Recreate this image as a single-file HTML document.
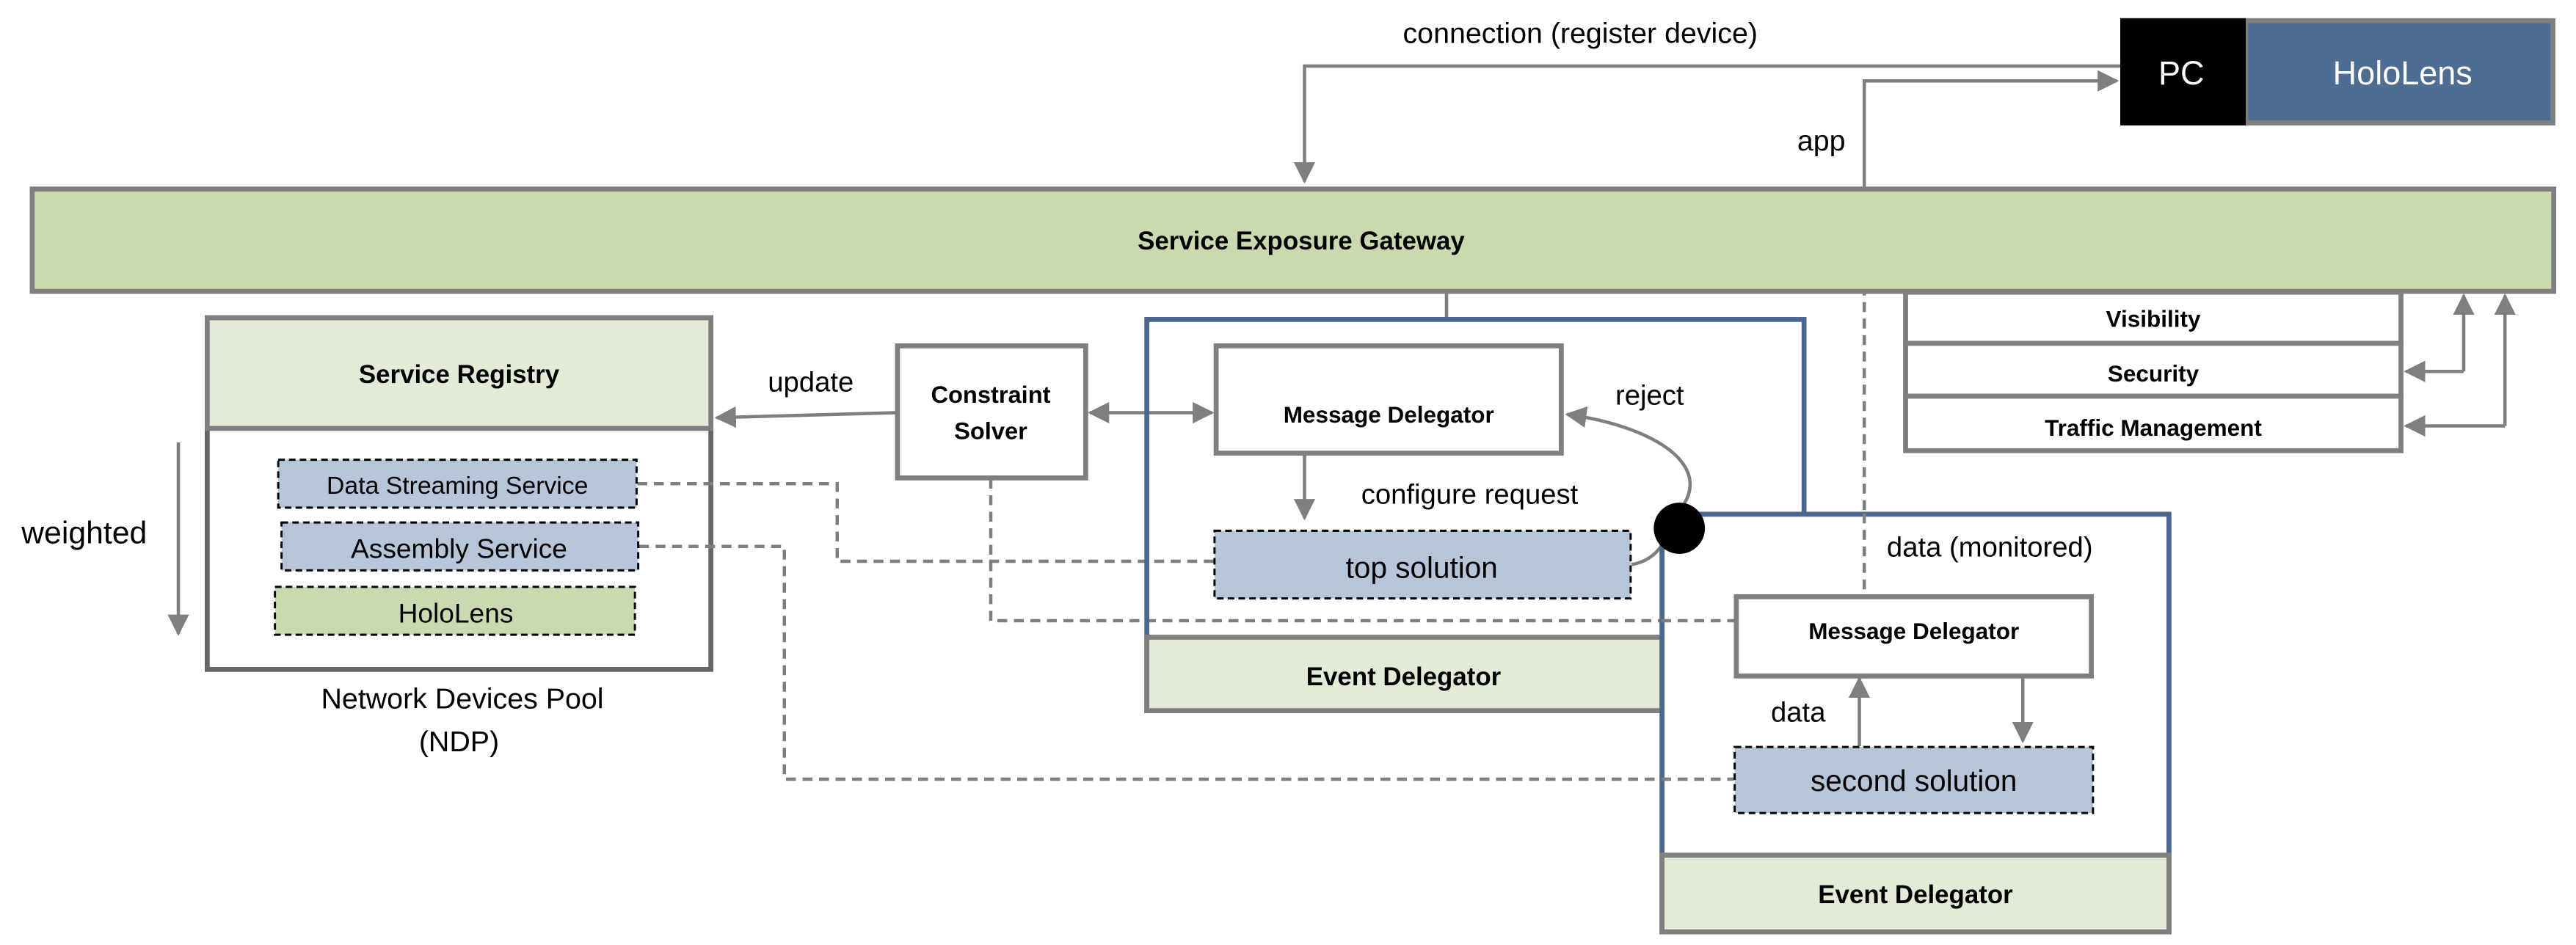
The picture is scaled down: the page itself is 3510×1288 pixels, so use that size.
<!DOCTYPE html>
<html><head><meta charset="utf-8"><style>
html,body{margin:0;padding:0;background:#fff;}
svg{display:block;}
text{font-family:"Liberation Sans",Arial,sans-serif;}
.b{font-weight:bold;}
</style></head><body>
<svg width="3510" height="1288" viewBox="0 0 1560 572.44" xmlns="http://www.w3.org/2000/svg">
<defs>
<marker id="ah" viewBox="0 0 10 10" refX="9" refY="5" markerWidth="6.5" markerHeight="6.5" orient="auto-start-reverse"><path d="M0,0L10,5L0,10z" fill="#7f7f7f"/></marker>
</defs>
<!-- Service registry -->
<rect x="125.5" y="192.5" width="305" height="213" fill="#fff" stroke="#666" stroke-width="3"/>
<rect x="125.5" y="192.5" width="305" height="67" fill="#e3ebd6" stroke="#7f7f7f" stroke-width="3"/>
<text x="278" y="232" text-anchor="middle" class="b" font-size="15.5">Service Registry</text>
<g fill="none" stroke="#7f7f7f" stroke-width="2">
<!-- connection -->
<polyline points="1284,40 790,40 790,110" marker-end="url(#ah)"/>
<!-- app -->
<polyline points="1129,113 1129,49 1282,49" marker-end="url(#ah)"/>
<line x1="1129" y1="113" x2="1129" y2="360" stroke-dasharray="6,4"/>
<line x1="876" y1="177" x2="876" y2="192"/>
<line x1="108" y1="268" x2="108" y2="384" marker-end="url(#ah)"/>
<line x1="542" y1="250" x2="434" y2="253" marker-end="url(#ah)"/>
<line x1="660" y1="250" x2="734" y2="250" marker-start="url(#ah)" marker-end="url(#ah)"/>
<polyline points="386,293 507,293 507,340 735,340" stroke-dasharray="6,4"/>
<polyline points="387,331 475,331 475,472 1050,472" stroke-dasharray="6,4"/>
<polyline points="600,290 600,376 1050,376" stroke-dasharray="6,4"/>
<polyline points="1492,225 1492,179" marker-end="url(#ah)"/>
<line x1="1492" y1="225" x2="1457" y2="225" marker-end="url(#ah)"/>
<polyline points="1517,258 1517,179" marker-end="url(#ah)"/>
<line x1="1517" y1="258" x2="1457" y2="258" marker-end="url(#ah)"/>
</g>
<rect x="19.5" y="114.5" width="1527" height="62" fill="#cbd9b0" stroke="#7f7f7f" stroke-width="3"/>
<text x="788" y="151" text-anchor="middle" class="b" font-size="15.5">Service Exposure Gateway</text>
<rect x="1360" y="12.5" width="186" height="62" fill="#4f6d93" stroke="#7f7f7f" stroke-width="3"/>
<rect x="1284" y="11" width="76" height="65" fill="#000"/>
<text x="1321" y="51" text-anchor="middle" fill="#fff" font-size="20">PC</text>
<text x="1455" y="51" text-anchor="middle" fill="#fff" font-size="20">HoloLens</text>
<text x="957" y="26" text-anchor="middle" font-size="17.5">connection (register device)</text>
<text x="1103" y="91" text-anchor="middle" font-size="17.5">app</text>
<g stroke="#7f7f7f" stroke-width="3" fill="#fff">
<rect x="1154" y="177" width="300" height="31"/>
<rect x="1154" y="208" width="300" height="32"/>
<rect x="1154" y="240" width="300" height="33"/>
</g>
<text x="1304" y="198" text-anchor="middle" class="b" font-size="14">Visibility</text>
<text x="1304" y="231" text-anchor="middle" class="b" font-size="14">Security</text>
<text x="1304" y="264" text-anchor="middle" class="b" font-size="14">Traffic Management</text>
<rect x="168.5" y="278.5" width="217" height="29" fill="#b7c5d8" stroke="#000" stroke-width="1.3" stroke-dasharray="4,2.5"/>
<text x="277" y="299" text-anchor="middle" font-size="15">Data Streaming Service</text>
<rect x="170.5" y="316.5" width="216" height="29" fill="#b7c5d8" stroke="#000" stroke-width="1.3" stroke-dasharray="4,2.5"/>
<text x="278" y="338" text-anchor="middle" font-size="16.5">Assembly Service</text>
<rect x="166.5" y="355.5" width="218" height="29" fill="#cbd9b0" stroke="#000" stroke-width="1.3" stroke-dasharray="4,2.5"/>
<text x="276" y="377" text-anchor="middle" font-size="16.5">HoloLens</text>
<text x="51" y="329" text-anchor="middle" font-size="19">weighted</text>
<text x="280" y="429" text-anchor="middle" font-size="17.5">Network Devices Pool</text>
<text x="278" y="455" text-anchor="middle" font-size="17.5">(NDP)</text>
<rect x="543.5" y="209.5" width="114" height="80" fill="#fff" stroke="#7f7f7f" stroke-width="3"/>
<text x="600" y="244" text-anchor="middle" class="b" font-size="14.5">Constraint</text>
<text x="600" y="266" text-anchor="middle" class="b" font-size="14.5">Solver</text>
<text x="491" y="237" text-anchor="middle" font-size="17">update</text>
<rect x="694.5" y="193.5" width="398" height="237" fill="none" stroke="#4a6890" stroke-width="3"/>
<rect x="694.5" y="386" width="312" height="44.5" fill="#e3ebd6" stroke="#7f7f7f" stroke-width="3"/>
<text x="850" y="415" text-anchor="middle" class="b" font-size="15.5">Event Delegator</text>
<rect x="736.5" y="209.5" width="209" height="65" fill="#fff" stroke="#7f7f7f" stroke-width="3"/>
<text x="841" y="256" text-anchor="middle" class="b" font-size="14">Message Delegator</text>
<line x1="790" y1="275" x2="790" y2="314" stroke="#7f7f7f" stroke-width="2" marker-end="url(#ah)"/>
<text x="890" y="305" text-anchor="middle" font-size="17">configure request</text>
<rect x="735.5" y="321.5" width="252" height="41" fill="#b7c5d8" stroke="#000" stroke-width="1.3" stroke-dasharray="4,2.5"/>
<text x="861" y="350" text-anchor="middle" font-size="18">top solution</text>
<path d="M988,342 C1000,340 1005,333 1010,325 M1020,305 C1035,280 1000,258 949,251" fill="none" stroke="#7f7f7f" stroke-width="2" marker-end="url(#ah)"/>
<text x="999" y="245" text-anchor="middle" font-size="17">reject</text>
<rect x="1006.5" y="311.5" width="307" height="253" fill="#fff" stroke="#4a6890" stroke-width="3"/>
<rect x="1006.5" y="518" width="307" height="46.5" fill="#e3ebd6" stroke="#7f7f7f" stroke-width="3"/>
<text x="1160" y="547" text-anchor="middle" class="b" font-size="15.5">Event Delegator</text>
<line x1="1129" y1="311" x2="1129" y2="360" stroke="#7f7f7f" stroke-width="2" stroke-dasharray="6,4"/>
<polyline points="1006,376 1050,376" stroke="#7f7f7f" stroke-width="2" stroke-dasharray="6,4" fill="none"/>
<polyline points="1006,472 1050,472" stroke="#7f7f7f" stroke-width="2" stroke-dasharray="6,4" fill="none"/>
<circle cx="1017" cy="320" r="15.5" fill="#000"/>
<text x="1205" y="337" text-anchor="middle" font-size="17">data (monitored)</text>
<rect x="1051.5" y="361.5" width="215" height="48" fill="#fff" stroke="#7f7f7f" stroke-width="3"/>
<text x="1159" y="387" text-anchor="middle" class="b" font-size="14">Message Delegator</text>
<line x1="1126" y1="452" x2="1126" y2="411" stroke="#7f7f7f" stroke-width="2" marker-end="url(#ah)"/>
<line x1="1225" y1="411" x2="1225" y2="449" stroke="#7f7f7f" stroke-width="2" marker-end="url(#ah)"/>
<text x="1089" y="437" text-anchor="middle" font-size="17">data</text>
<rect x="1050.5" y="452.5" width="217" height="40" fill="#b7c5d8" stroke="#000" stroke-width="1.3" stroke-dasharray="4,2.5"/>
<text x="1159" y="479" text-anchor="middle" font-size="18">second solution</text>
</svg>
</body></html>
